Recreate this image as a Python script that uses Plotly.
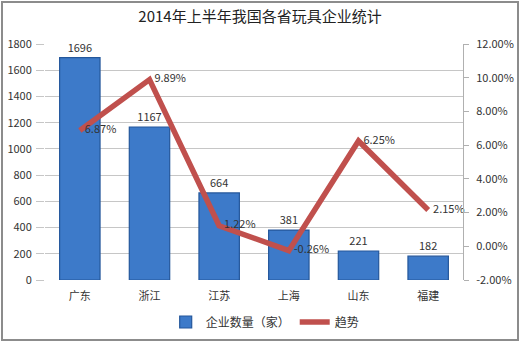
import plotly.graph_objects as go

provinces = ["广东", "浙江", "江苏", "上海", "山东", "福建"]
companies = [1696, 1167, 664, 381, 221, 182]
trend_pct = [6.87, 9.89, 1.22, -0.26, 6.25, 2.15]

left_ticks = [0, 200, 400, 600, 800, 1000, 1200, 1400, 1600, 1800]
right_ticks = [-2, 0, 2, 4, 6, 8, 10, 12]

font_cjk = "Noto Sans CJK SC, DejaVu Sans, sans-serif"
txt_col = "#333333"

W, H = 520, 342
ML, MR, MT, MB = 45, 57, 44, 62
PW, PH = W - ML - MR, H - MT - MB

fig = go.Figure()

fig.add_trace(go.Bar(
    x=provinces, y=companies, name="企业数量（家）",
    marker=dict(color="#3D7AC9", line=dict(color="#24579B", width=1.2)),
    width=0.58,
    text=[str(v) for v in companies], textposition="outside",
    textfont=dict(size=11, color=txt_col),
    cliponaxis=False,
))

fig.add_trace(go.Scatter(
    x=provinces, y=trend_pct, name="趋势", yaxis="y2",
    mode="lines+text",
    line=dict(color="#C0504D", width=5.5),
    text=[f"  {v:.2f}%" for v in trend_pct], textposition="middle right",
    textfont=dict(size=11, color=txt_col),
    cliponaxis=False,
))

fig.update_layout(
    width=W, height=H,
    margin=dict(l=ML, r=MR, t=MT, b=MB, autoexpand=False),
    paper_bgcolor="white", plot_bgcolor="white",
    font=dict(family=font_cjk, size=11, color=txt_col),
    title=dict(text="2014年上半年我国各省玩具企业统计", x=0.5, xanchor="center",
               xref="container", yref="container",
               y=1 - 17 / H, yanchor="middle",
               font=dict(size=15, color="#222222", family=font_cjk)),
    bargap=0.42,
    showlegend=True,
    legend=dict(orientation="h", xref="container", yref="container",
                x=0.51, xanchor="center", y=1 - 322 / H, yanchor="middle",
                font=dict(size=12, color=txt_col), itemwidth=30,
                tracegroupgap=0),
    xaxis=dict(showgrid=False, showline=False, ticks="outside", ticklen=6,
               tickcolor="rgba(0,0,0,0)", tickfont=dict(size=11)),
    yaxis=dict(range=[0, 1800], tickvals=left_ticks, showgrid=True,
               gridcolor="#C6C6C6", gridwidth=1, zeroline=False,
               showline=False, ticks="outside", ticklen=8, tickcolor="#C6C6C6",
               tickfont=dict(size=11), ticklabelstandoff=2),
    yaxis2=dict(range=[-2, 12], tickvals=right_ticks, overlaying="y", side="right",
                ticktext=[f"{v:.2f}%" for v in right_ticks],
                showgrid=False, zeroline=False, showline=True, linecolor="#B0B0B0",
                ticks="outside", ticklen=5, tickcolor="#B0B0B0",
                tickfont=dict(size=11), ticklabelstandoff=5),
    shapes=[dict(type="rect", xref="paper", yref="paper",
                 x0=-(ML - 2) / PW, x1=1 + (MR - 2) / PW,
                 y0=-(MB - 2) / PH, y1=1 + (MT - 2) / PH,
                 line=dict(color="#8C8C8C", width=2), fillcolor="rgba(0,0,0,0)")],
)

fig.write_html("out.html")
